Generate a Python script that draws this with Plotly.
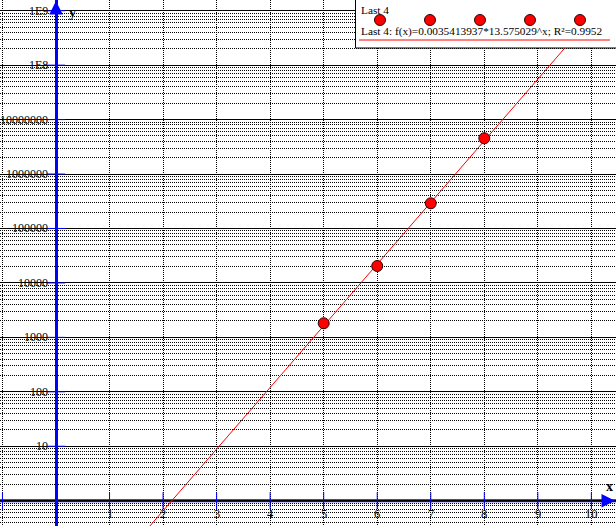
import numpy as np
import plotly.graph_objects as go

# ---- data ----
x_points = [5, 6, 7, 8]
y_points = [1815, 20470, 290000, 4540000]
fit_a = 0.0035413937
fit_b = 13.575029
fit_label = "Last 4: f(x)=0.0035413937*13.575029^x; R²=0.9952"
series_name = "Last 4"
x_tick_values = [1, 2, 3, 4, 5, 6, 7, 8, 9, 10]
x_tick_marks = [-1, 1, 2, 3, 4, 5, 6, 7, 8, 9, 10]
y_tick_values = [10, 100, 1000, 10000, 100000, 1000000, 10000000, 100000000, 1000000000]
y_tick_labels = ["10", "100", "1000", "10000", "100000", "1000000", "10000000", "1E8", "1E9"]

X_RANGE = [-1.046, 10.46]
Y_RANGE = [-0.465, 9.197]
BLUE = "#0000ff"
FONT = "Liberation Serif"

fig = go.Figure()

# fit line
xf = np.linspace(X_RANGE[0], X_RANGE[1], 400)
yf = fit_a * fit_b ** xf
fig.add_trace(go.Scatter(x=xf, y=yf, mode="lines", line=dict(color="#ff0000", width=1),
                         hoverinfo="skip", showlegend=False))

# blue x axis at y=1
fig.add_shape(type="line", xref="paper", yref="y", x0=0, x1=1, y0=1, y1=1,
              line=dict(color=BLUE, width=3), layer="below")

# tick marks on blue axes
fig.add_trace(go.Scatter(x=x_tick_marks, y=[1] * len(x_tick_marks), mode="markers",
                         marker=dict(symbol="line-ns", size=12, line=dict(color=BLUE, width=1)),
                         hoverinfo="skip", showlegend=False))
fig.add_trace(go.Scatter(x=[0] * len(y_tick_values), y=y_tick_values, mode="markers",
                         marker=dict(symbol="line-ew", size=13, line=dict(color=BLUE, width=1)),
                         hoverinfo="skip", showlegend=False))

# data points
fig.add_trace(go.Scatter(x=x_points, y=y_points, mode="markers",
                         marker=dict(color="#ff0000", size=11, line=dict(color="#300000", width=1)),
                         showlegend=False))

# tick labels
for v, lab in zip(y_tick_values, y_tick_labels):
    fig.add_annotation(x=0, y=np.log10(v), text=lab, showarrow=False, xanchor="right",
                       yanchor="middle", xshift=-6, font=dict(family=FONT, size=12, color="black"))
for v in x_tick_values:
    fig.add_annotation(x=v, y=0, text=str(v), showarrow=False, xanchor="center",
                       yanchor="top", yshift=-4, font=dict(family=FONT, size=12.5, color="black"))

# axis names
fig.add_annotation(x=0, y=1, xref="x", yref="paper", text="<b>y</b>", showarrow=False,
                   xanchor="left", yanchor="top", xshift=11, yshift=-3,
                   font=dict(family=FONT, size=14, color="black"))
fig.add_annotation(x=1, y=0, xref="paper", yref="y", text="<b>x</b>", showarrow=False,
                   xanchor="right", yanchor="bottom", xshift=-1, yshift=5,
                   font=dict(family=FONT, size=14, color="black"))

# arrows
fig.add_annotation(x=0, y=1, xref="x", yref="paper", ax=0, ay=12, showarrow=True,
                   arrowhead=2, arrowsize=0.9, arrowwidth=3, arrowcolor=BLUE, text="")
fig.add_annotation(x=1, y=0, xref="paper", yref="y", ax=-12, ay=0, showarrow=True,
                   arrowhead=2, arrowsize=0.9, arrowwidth=3, arrowcolor=BLUE, text="")

# legend box
W, H = 616, 526
def px(xp):
    return xp / W
def py(yp):
    return 1 - yp / H
fig.add_shape(type="rect", xref="paper", yref="paper", x0=px(355.5), x1=px(617), y0=py(48), y1=py(-1),
              fillcolor="white", line=dict(color="black", width=1), layer="above")
fig.add_annotation(xref="paper", yref="paper", x=px(359), y=py(2), text=series_name, showarrow=False,
                   xanchor="left", yanchor="top", font=dict(family=FONT, size=11.3, color="black"))
for cx in [380, 430, 480, 530, 580]:
    fig.add_shape(type="circle", xref="paper", yref="paper", xsizemode="pixel", ysizemode="pixel",
                  xanchor=px(cx), yanchor=py(20), x0=-5.5, x1=5.5, y0=-5.5, y1=5.5,
                  fillcolor="#ff0000", line=dict(color="#300000", width=1), layer="above")
fig.add_annotation(xref="paper", yref="paper", x=px(359), y=py(32), text=fit_label, showarrow=False,
                   xanchor="left", yanchor="middle", font=dict(family=FONT, size=11.3, color="black"))
fig.add_shape(type="line", xref="paper", yref="paper", x0=px(359), x1=px(610), y0=py(40), y1=py(40),
              line=dict(color="#ff0000", width=1), layer="above")

fig.update_layout(
    width=W, height=H, margin=dict(l=0, r=0, t=0, b=0),
    paper_bgcolor="white", plot_bgcolor="white", showlegend=False,
    xaxis=dict(range=X_RANGE, dtick=1, tick0=0, showgrid=True, gridcolor="black", gridwidth=1,
               griddash="1px,1px", zeroline=True, zerolinecolor=BLUE, zerolinewidth=3,
               showticklabels=False, ticks="", showline=False, fixedrange=True),
    yaxis=dict(type="log", range=Y_RANGE, dtick=1, showgrid=True, gridcolor="black", gridwidth=1,
               showticklabels=False, ticks="", showline=False, zeroline=False,
               minor=dict(dtick="D1", showgrid=True, gridcolor="black", gridwidth=1, griddash="1px,1px")),
)

fig.write_html("out.html", config={"displayModeBar": False},
               post_script="document.body.style.margin='0';document.body.style.overflow='hidden';")
